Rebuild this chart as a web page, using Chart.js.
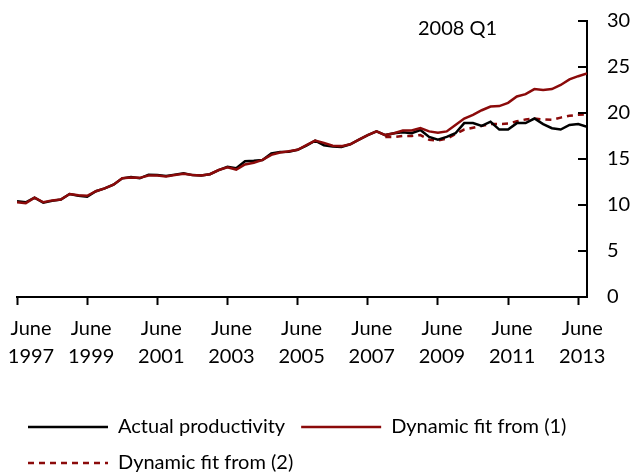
<!DOCTYPE html>
<html>
<head>
<meta charset="utf-8">
<script src="https://cdn.jsdelivr.net/npm/chart.js@4/dist/chart.umd.min.js"></script>
<style>
  body { margin: 0; background: #fff; }
  #wrap { width: 632px; height: 473px; position: relative; }
</style>
</head>
<body>
<div id="wrap"><canvas id="chart"></canvas></div>
<script>
const quarters = [
  'Jun 1997', 'Sep 1997', 'Dec 1997',
  'Mar 1998', 'Jun 1998', 'Sep 1998', 'Dec 1998',
  'Mar 1999', 'Jun 1999', 'Sep 1999', 'Dec 1999',
  'Mar 2000', 'Jun 2000', 'Sep 2000', 'Dec 2000',
  'Mar 2001', 'Jun 2001', 'Sep 2001', 'Dec 2001',
  'Mar 2002', 'Jun 2002', 'Sep 2002', 'Dec 2002',
  'Mar 2003', 'Jun 2003', 'Sep 2003', 'Dec 2003',
  'Mar 2004', 'Jun 2004', 'Sep 2004', 'Dec 2004',
  'Mar 2005', 'Jun 2005', 'Sep 2005', 'Dec 2005',
  'Mar 2006', 'Jun 2006', 'Sep 2006', 'Dec 2006',
  'Mar 2007', 'Jun 2007', 'Sep 2007', 'Dec 2007',
  'Mar 2008', 'Jun 2008', 'Sep 2008', 'Dec 2008',
  'Mar 2009', 'Jun 2009', 'Sep 2009', 'Dec 2009',
  'Mar 2010', 'Jun 2010', 'Sep 2010', 'Dec 2010',
  'Mar 2011', 'Jun 2011', 'Sep 2011', 'Dec 2011',
  'Mar 2012', 'Jun 2012', 'Sep 2012', 'Dec 2012',
  'Mar 2013', 'Jun 2013', 'Sep 2013'
];

const actual = [
  10.4, 10.3, 10.8, 10.25, 10.45, 10.6, 11.2, 11.0, 10.9, 11.5,
  11.8, 12.2, 12.9, 13.05, 12.9, 13.3, 13.25, 13.15, 13.3, 13.45,
  13.25, 13.2, 13.35, 13.8, 14.15, 14.0, 14.75, 14.8, 14.9, 15.6,
  15.75, 15.8, 16.0, 16.45, 17.0, 16.5, 16.35, 16.3, 16.6, 17.1,
  17.6, 18.0, 17.6, 17.8, 17.9, 17.8, 18.15, 17.4, 17.1, 17.4,
  17.8, 18.9, 18.9, 18.6, 19.05, 18.2, 18.2, 18.9, 18.9, 19.4,
  18.8, 18.35, 18.2, 18.7, 18.8, 18.5
];

const fit1 = [
  10.3, 10.2, 10.8, 10.3, 10.5, 10.6, 11.2, 11.05, 11.0, 11.5,
  11.8, 12.2, 12.9, 13.0, 12.95, 13.2, 13.2, 13.1, 13.25, 13.4,
  13.25, 13.2, 13.35, 13.8, 14.1, 13.85, 14.4, 14.6, 14.9, 15.45,
  15.7, 15.85, 16.0, 16.5, 17.0, 16.75, 16.45, 16.4, 16.6, 17.1,
  17.6, 18.0, 17.6, 17.8, 18.1, 18.1, 18.35, 18.0, 17.85, 18.0,
  18.7, 19.4, 19.8, 20.3, 20.7, 20.75, 21.1, 21.8, 22.05, 22.6,
  22.5, 22.6, 23.05, 23.65, 24.0, 24.3
];

// fit (2) only runs from the end of 2007 onwards
const fit2Start = 'Dec 2007';
const fit2 = [
  17.4, 17.4, 17.5, 17.5, 17.6, 17.1, 17.0, 17.2, 17.7, 18.2,
  18.4, 18.6, 18.8, 18.8, 18.85, 19.1, 19.3, 19.4, 19.3, 19.25,
  19.5, 19.7, 19.8, 19.85
];

const tickQuarters = ['Jun 1997', 'Jun 1999', 'Jun 2001', 'Jun 2003', 'Jun 2005',
  'Jun 2007', 'Jun 2009', 'Jun 2011', 'Jun 2013'];
const tickLabels = [
  ['June', '1997'], ['June', '1999'], ['June', '2001'], ['June', '2003'], ['June', '2005'],
  ['June', '2007'], ['June', '2009'], ['June', '2011'], ['June', '2013']
];
const yTicks = [0, 5, 10, 15, 20, 25, 30];
const annotation = '2008 Q1';

const RED = '#8b0a0a';
const FONT = "'Gill Sans', 'Gill Sans MT', Lato, sans-serif";

const toPoints = (vals, offset = 0) => vals.map((v, i) => ({ x: i + offset, y: v }));

// y ticks point into the plot, and the period label sits top right
const innerTicks = {
  id: 'innerTicks',
  afterDraw(chart) {
    const { ctx, chartArea, scales: { y } } = chart;
    ctx.save();
    ctx.strokeStyle = '#000';
    ctx.lineWidth = 2;
    yTicks.forEach(v => {
      const py = Math.round(y.getPixelForValue(v));
      ctx.beginPath();
      ctx.moveTo(chartArea.right, py);
      ctx.lineTo(chartArea.right - 9, py);
      ctx.stroke();
    });
    ctx.fillStyle = '#000';
    ctx.font = '20px ' + FONT;
    ctx.textBaseline = 'alphabetic';
    ctx.fillText(annotation, chartArea.right - 169, chartArea.top + 14);
    ctx.restore();
  }
};

Chart.defaults.font.family = FONT;
Chart.defaults.font.size = 20;
Chart.defaults.color = '#000';

new Chart(document.getElementById('chart'), {
  type: 'line',
  data: {
    datasets: [
      {
        label: 'Actual productivity',
        data: toPoints(actual),
        borderColor: '#000',
        backgroundColor: '#000',
        borderWidth: 2.5,
        order: 1
      },
      {
        label: 'Dynamic fit from (1)',
        data: toPoints(fit1),
        borderColor: RED,
        backgroundColor: RED,
        borderWidth: 2.5,
        order: 0
      },
      {
        label: 'Dynamic fit from (2)',
        data: toPoints(fit2, quarters.indexOf(fit2Start)),
        borderColor: RED,
        backgroundColor: RED,
        borderWidth: 2.5,
        borderDash: [6, 5],
        order: 2
      }
    ]
  },
  options: {
    responsive: true,
    maintainAspectRatio: false,
    animation: false,
    elements: { point: { radius: 0 }, line: { tension: 0 } },
    layout: { padding: { left: 12, top: 0, right: 0, bottom: -10 } },
    plugins: {
      tooltip: { enabled: false },
      legend: {
        position: 'bottom',
        align: 'start',
        labels: {
          boxWidth: 80,
          boxHeight: 0,
          padding: 16,
          color: '#000',
          font: { size: 20 },
          sort: (a, b) => a.datasetIndex - b.datasetIndex
        }
      }
    },
    scales: {
      x: {
        type: 'linear',
        min: 0,
        max: quarters.length - 1,
        afterBuildTicks: s => {
          s.ticks = tickQuarters.map(q => ({ value: quarters.indexOf(q) }));
        },
        afterFit: s => {
          s.height = 104;
          s.paddingLeft = 17;
          s.paddingRight = 0;
        },
        grid: {
          drawOnChartArea: false,
          drawTicks: true,
          tickLength: 8,
          tickWidth: 2,
          color: '#000'
        },
        border: { display: true, color: '#000', width: 2 },
        ticks: {
          autoSkip: false,
          maxRotation: 0,
          padding: 10,
          labelOffset: 4,
          font: { size: 20, lineHeight: 1.4 },
          callback: v => {
            const k = tickQuarters.indexOf(quarters[v]);
            if (k < 0) return null;
            // the first label sits a little right of its tick, as in the source
            return k === 0 ? tickLabels[k].map(t => '\u2002\u2002' + t) : tickLabels[k];
          }
        }
      },
      y: {
        position: 'right',
        min: 0,
        max: 30,
        afterBuildTicks: s => {
          s.ticks = yTicks.map(v => ({ value: v }));
        },
        afterFit: s => {
          s.width = 45;
          s.paddingTop = 21;
          s.paddingBottom = 0;
        },
        grid: { drawOnChartArea: false, drawTicks: false },
        border: { display: true, color: '#000', width: 2 },
        ticks: { padding: 20, font: { size: 20 } }
      }
    }
  },
  plugins: [innerTicks]
});
</script>
</body>
</html>
